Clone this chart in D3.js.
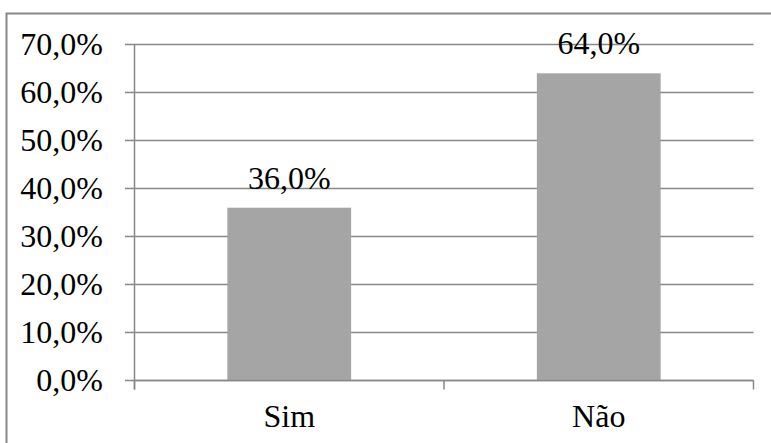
<!DOCTYPE html>
<html>
<head>
<meta charset="utf-8">
<script src="https://cdn.jsdelivr.net/npm/d3@7"></script>
<style>
  html, body { margin: 0; padding: 0; background: #fff; }
  svg { display: block; }
  text { font-family: "Liberation Serif", "Times New Roman", serif; fill: #000; }
</style>
</head>
<body>
<svg id="chart" width="771" height="443"></svg>
<script>
// Respostas: percentagem por categoria
const categories = ["Sim", "Não"];
const values = [36.0, 64.0];
const yTicks = [0, 10, 20, 30, 40, 50, 60, 70];

const fmt = v => v.toFixed(1).replace(".", ",") + "%";

const svg = d3.select("#chart");
const lineColor = "#888888";
const barColor = "#a5a5a5";
const fontSize = 32;

// Moldura da área do gráfico
svg.append("rect")
  .attr("x", 6.5).attr("y", 13.5)
  .attr("width", 800).attr("height", 500)
  .attr("fill", "none")
  .attr("stroke", lineColor)
  .attr("stroke-width", 2);

const plot = { left: 134.5, right: 753.5, top: 44.5, bottom: 380.5 };

const y = d3.scaleLinear().domain([0, 70]).range([plot.bottom, plot.top]);
const x = d3.scaleBand()
  .domain(categories)
  .range([plot.left, plot.right])
  .paddingInner(0.6)
  .paddingOuter(0.3);

// Linhas de grade horizontais com marcas à esquerda
svg.append("g").selectAll("line")
  .data(yTicks)
  .join("line")
  .attr("x1", plot.left - 9.5)
  .attr("x2", plot.right)
  .attr("y1", d => y(d))
  .attr("y2", d => y(d))
  .attr("stroke", lineColor)
  .attr("stroke-width", 1.5);

// Rótulos do eixo Y
svg.append("g").selectAll("text")
  .data(yTicks)
  .join("text")
  .attr("x", 103)
  .attr("y", d => y(d))
  .attr("dy", "0.32em")
  .attr("text-anchor", "end")
  .attr("font-size", fontSize)
  .text(fmt);

// Barras
svg.append("g").selectAll("rect")
  .data(values)
  .join("rect")
  .attr("x", (d, i) => x(categories[i]))
  .attr("width", x.bandwidth())
  .attr("y", d => y(d))
  .attr("height", d => y(0) - y(d))
  .attr("fill", barColor);

// Eixo vertical
svg.append("line")
  .attr("x1", plot.left).attr("x2", plot.left)
  .attr("y1", plot.top).attr("y2", plot.bottom + 9)
  .attr("stroke", lineColor)
  .attr("stroke-width", 1.5);

// Eixo horizontal e marcas entre categorias
svg.append("line")
  .attr("x1", plot.left).attr("x2", plot.right)
  .attr("y1", y(0)).attr("y2", y(0))
  .attr("stroke", lineColor)
  .attr("stroke-width", 1.5);

const boundaries = [plot.left, ...categories.slice(1).map(c => x(c) - x.step() * x.paddingInner() / 2), plot.right];
svg.append("g").selectAll("line")
  .data(boundaries)
  .join("line")
  .attr("x1", d => d).attr("x2", d => d)
  .attr("y1", y(0)).attr("y2", y(0) + 9)
  .attr("stroke", lineColor)
  .attr("stroke-width", 1.5);

// Rótulos das categorias
svg.append("g").selectAll("text")
  .data(categories)
  .join("text")
  .attr("x", d => x(d) + x.bandwidth() / 2)
  .attr("y", 427)
  .attr("text-anchor", "middle")
  .attr("font-size", fontSize)
  .text(d => d);

// Rótulos de valores
svg.append("g").selectAll("text")
  .data(values)
  .join("text")
  .attr("x", (d, i) => x(categories[i]) + x.bandwidth() / 2)
  .attr("y", d => y(d) - 19)
  .attr("text-anchor", "middle")
  .attr("font-size", fontSize)
  .text(fmt);
</script>
</body>
</html>
